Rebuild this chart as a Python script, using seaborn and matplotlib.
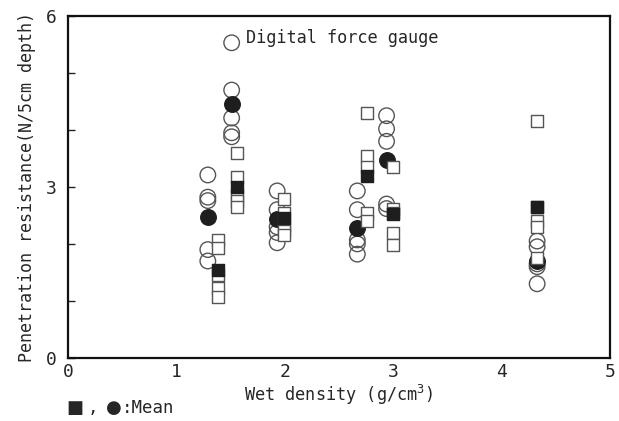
import numpy as np
import pandas as pd
import seaborn as sns
import matplotlib
matplotlib.use("Agg")
import matplotlib.pyplot as plt

# values
circle_x = [1.29, 1.51, 1.93, 2.67, 2.94, 4.33]
square_x = [1.38, 1.56, 1.99, 2.76, 3.00, 4.33]

circle_vals = [
    [3.21, 2.82, 2.76, 1.90, 1.70],
    [5.53, 4.70, 4.21, 3.95, 3.88],
    [2.93, 2.60, 2.30, 2.20, 2.02],
    [2.93, 2.60, 2.07, 2.00, 1.82],
    [4.25, 4.02, 3.80, 2.70, 2.62],
    [2.05, 1.95, 1.65, 1.60, 1.30],
]
square_vals = [
    [2.07, 1.92, 1.45, 1.23, 1.07],
    [3.60, 3.18, 2.85, 2.75, 2.65],
    [2.78, 2.55, 2.33, 2.22, 2.15],
    [4.30, 3.55, 3.35, 2.55, 2.40],
    [3.35, 2.62, 2.55, 2.20, 1.98],
    [4.15, 2.65, 2.40, 2.30, 1.75],
]
circle_mean = [2.48, 4.45, 2.43, 2.28, 3.47, 1.70]
square_mean = [1.55, 3.00, 2.45, 3.20, 2.52, 2.65]


def long_form(xs, vals):
    rows = []
    for x, vs in zip(xs, vals):
        for v in vs:
            rows.append({"density": x, "resistance": v})
    return pd.DataFrame(rows)


df_circ = long_form(circle_x, circle_vals)
df_sq = long_form(square_x, square_vals)
df_cmean = pd.DataFrame({"density": circle_x, "resistance": circle_mean})
df_smean = pd.DataFrame({"density": square_x, "resistance": square_mean})

sns.set_style("white")
plt.rcParams['font.family'] = ['DejaVu Sans Mono', 'DejaVu Sans']
plt.rcParams['mathtext.default'] = 'regular'

fig = plt.figure(figsize=(6.19, 4.21), dpi=100)
ax = fig.add_axes([0.110, 0.150, 0.875, 0.812])

edge = "#555555"
sns.scatterplot(data=df_circ, x="density", y="resistance", marker="o", s=125,
                facecolor="none", edgecolor=edge, linewidth=1.0, ax=ax)
sns.scatterplot(data=df_cmean, x="density", y="resistance", marker="o", s=125,
                color="#1e1e1e", edgecolor="#1e1e1e", linewidth=1.0, ax=ax)
sns.scatterplot(data=df_sq, x="density", y="resistance", marker="s", s=70,
                facecolor="white", edgecolor=edge, linewidth=1.0, ax=ax)
sns.scatterplot(data=df_smean, x="density", y="resistance", marker="s", s=70,
                color="#1e1e1e", edgecolor="#1e1e1e", linewidth=1.0, ax=ax)

ax.set_xlim(0, 5)
ax.set_ylim(0, 6)
ax.set_xticks([0, 1, 2, 3, 4, 5])
ax.set_yticks([0, 3, 6])
ax.set_yticks([1, 2, 4, 5], minor=True)
ax.tick_params(axis="y", which="both", direction="in", length=5, width=1,
               left=True, labelsize=13, pad=8)
ax.tick_params(axis="x", which="both", length=0, labelsize=13, pad=4)
for sp in ax.spines.values():
    sp.set_linewidth(1.6)
    sp.set_color("#111111")
ax.grid(False)

ax.set_xlabel("Wet density (g/cm$^3$)", fontsize=12.2, labelpad=1)
ax.set_ylabel("Penetration resistance(N/5cm depth)", fontsize=12, labelpad=7)
ax.text(1.64, 5.61, "Digital force gauge", fontsize=12.2, va="center", ha="left")

# legend note under the axes
fig.text(0.108, 0.030, "\u25a0", fontsize=13, ha="left", va="center",
         family="DejaVu Sans")
fig.text(0.142, 0.030, ",", fontsize=12.5, ha="left", va="center")
fig.text(0.172, 0.030, "\u25cf", fontsize=13, ha="left", va="center",
         family="DejaVu Sans")
fig.text(0.197, 0.030, ":Mean", fontsize=12.5, ha="left", va="center")

plt.savefig("out.png", dpi=100)
